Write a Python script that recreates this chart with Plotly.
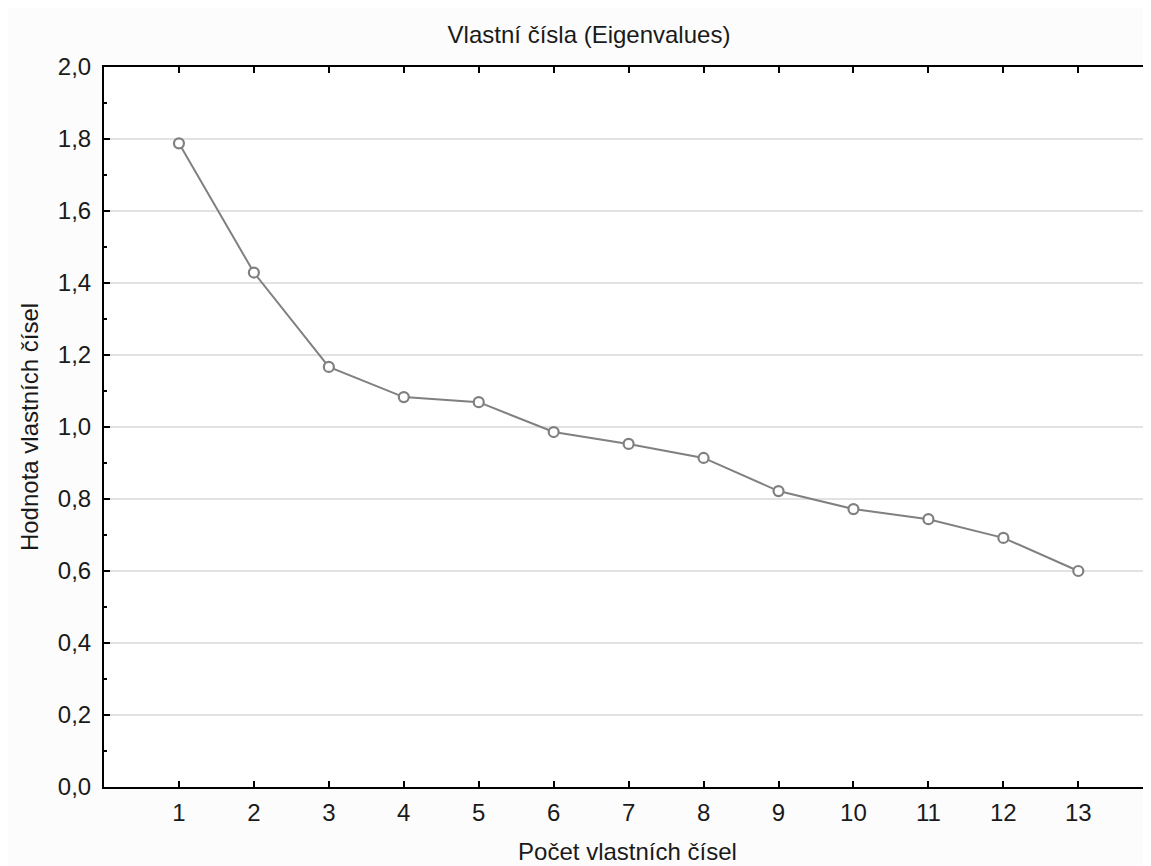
import plotly.graph_objects as go

components = list(range(1, 14))
eigenvalues = [1.788, 1.429, 1.167, 1.083, 1.069, 0.986, 0.953, 0.914, 0.822, 0.772, 0.744, 0.692, 0.600]

y_tickvals = [0.0, 0.2, 0.4, 0.6, 0.8, 1.0, 1.2, 1.4, 1.6, 1.8, 2.0]
y_ticktext = ["0,0", "0,2", "0,4", "0,6", "0,8", "1,0", "1,2", "1,4", "1,6", "1,8", "2,0"]
x_tickvals = components
x_ticktext = [str(c) for c in components]

title_text = "Vlastní čísla (Eigenvalues)"
x_title = "Počet vlastních čísel"
y_title = "Hodnota vlastních čísel"

FONT = "Liberation Sans, Arial, sans-serif"
W, H = 1143, 858  # page adds an 8px body margin

fig = go.Figure()
fig.add_trace(go.Scatter(
    x=components, y=eigenvalues, mode="lines+markers",
    line=dict(color="#808080", width=2),
    marker=dict(symbol="circle", size=10, color="white",
                line=dict(color="#808080", width=2.2)),
    showlegend=False,
))

fig.update_layout(
    width=W, height=H,
    margin=dict(l=96, r=0, t=59, b=79),
    paper_bgcolor="#fcfcfc",
    plot_bgcolor="white",
    font=dict(family=FONT, size=24, color="#1a1a1a"),
    title=dict(text=title_text, x=581 / W, xref="container", xanchor="center",
               y=1 - 27 / H, yref="container", yanchor="middle",
               font=dict(family=FONT, size=24, color="#1a1a1a")),
)

fig.update_xaxes(
    range=[0, 13.97],
    tickvals=x_tickvals, ticktext=x_ticktext,
    showgrid=False, zeroline=False,
    showline=True, linecolor="black", linewidth=2, mirror="ticks",
    ticks="inside", ticklen=6, tickwidth=2, tickcolor="black",
    tickfont=dict(size=24),
    ticklabelstandoff=3,
    title=dict(text=x_title, font=dict(size=24), standoff=18),
)

fig.update_yaxes(
    range=[0, 2.0],
    tickvals=y_tickvals, ticktext=y_ticktext,
    showgrid=True, gridcolor="#e2e2e2", gridwidth=2,
    zeroline=False,
    showline=True, linecolor="black", linewidth=2, mirror=False,
    ticks="inside", ticklen=6, tickwidth=2, tickcolor="black",
    minor=dict(dtick=0.1, ticks="inside", ticklen=3, tickwidth=2, tickcolor="black", showgrid=False),
    tickfont=dict(size=24),
    ticklabelstandoff=6,
    title=dict(text=y_title, font=dict(size=24), standoff=12),
)

fig.write_html("out.html")
